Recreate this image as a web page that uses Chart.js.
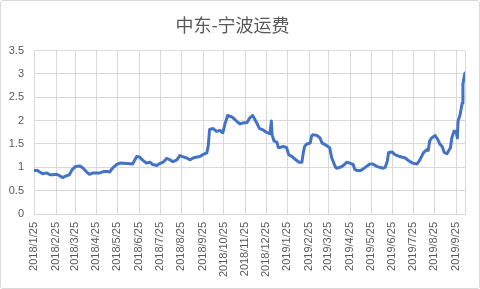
<!DOCTYPE html>
<html>
<head>
<meta charset="utf-8">
<script src="https://cdn.jsdelivr.net/npm/chart.js@4/dist/chart.umd.min.js"></script>
<style>
  html, body { margin: 0; padding: 0; background: #ffffff; }
  #wrap { position: relative; width: 480px; height: 289px; }
  #frame { position: absolute; left: 0; top: 0; width: 478px; height: 287px; border: 1px solid #d9d9d9; border-radius: 3px; pointer-events: none; }
  canvas { position: absolute; left: 0; top: 0; }
</style>
</head>
<body>
<div id="wrap">
  <canvas id="c" width="480" height="289"></canvas>
  <div id="frame"></div>
</div>
<script>
const chartTitle = '中东-宁波运费';

const tickLabels = [
  '2018/1/25','2018/2/25','2018/3/25','2018/4/25','2018/5/25','2018/6/25',
  '2018/7/25','2018/8/25','2018/9/25','2018/10/25','2018/11/25','2018/12/25',
  '2019/1/25','2019/2/25','2019/3/25','2019/4/25','2019/5/25','2019/6/25',
  '2019/7/25','2019/8/25','2019/9/25'
];

const yTicks = [0, 0.5, 1, 1.5, 2, 2.5, 3, 3.5];

const dates = [
  '2018/1/25','2018/1/30','2018/2/2','2018/2/7','2018/2/12','2018/2/17','2018/2/21','2018/2/27',
  '2018/3/3','2018/3/7','2018/3/13','2018/3/17','2018/3/21','2018/3/26','2018/4/1','2018/4/5',
  '2018/4/11','2018/4/15','2018/4/20','2018/4/25','2018/4/30','2018/5/5','2018/5/10','2018/5/14',
  '2018/5/18','2018/5/24','2018/5/29','2018/6/8','2018/6/16','2018/6/22','2018/6/26','2018/7/1',
  '2018/7/6','2018/7/11','2018/7/15','2018/7/21','2018/7/25','2018/7/30','2018/8/4','2018/8/9',
  '2018/8/13','2018/8/19','2018/8/23','2018/8/27','2018/9/2','2018/9/7','2018/9/11','2018/9/17',
  '2018/9/21','2018/9/25','2018/10/1','2018/10/3','2018/10/5','2018/10/10','2018/10/15','2018/10/20',
  '2018/10/24','2018/10/27','2018/10/31','2018/11/6','2018/11/10','2018/11/15','2018/11/18','2018/11/22',
  '2018/11/28','2018/12/2','2018/12/6','2018/12/12','2018/12/16','2018/12/21','2018/12/26','2018/12/31',
  '2019/1/2','2019/1/3','2019/1/6','2019/1/10','2019/1/12','2019/1/14','2019/1/19','2019/1/24',
  '2019/1/27','2019/2/1','2019/2/3','2019/2/8','2019/2/11','2019/2/15','2019/2/17','2019/2/19',
  '2019/2/22','2019/2/27','2019/3/1','2019/3/3','2019/3/9','2019/3/13','2019/3/16','2019/3/20',
  '2019/3/24','2019/3/27','2019/3/30','2019/4/1','2019/4/4','2019/4/6','2019/4/11','2019/4/15',
  '2019/4/21','2019/4/25','2019/4/30','2019/5/2','2019/5/5','2019/5/10','2019/5/14','2019/5/20',
  '2019/5/24','2019/5/28','2019/6/3','2019/6/7','2019/6/12','2019/6/15','2019/6/18','2019/6/20',
  '2019/6/25','2019/6/29','2019/7/6','2019/7/14','2019/7/18','2019/7/24','2019/7/31','2019/8/4',
  '2019/8/9','2019/8/14','2019/8/16','2019/8/18','2019/8/21','2019/8/26','2019/8/30','2019/9/2',
  '2019/9/5','2019/9/8','2019/9/12','2019/9/17','2019/9/19','2019/9/22','2019/9/25','2019/9/27',
  '2019/9/28','2019/10/1','2019/10/4','2019/10/5','2019/10/7','2019/10/8'
];

const values = [
  0.93,0.93,0.90,0.86,0.88,0.84,0.84,0.85,
  0.82,0.78,0.82,0.84,0.95,1.02,1.03,0.99,
  0.90,0.85,0.88,0.88,0.88,0.91,0.91,0.90,
  0.98,1.06,1.09,1.08,1.07,1.23,1.22,1.15,
  1.09,1.11,1.06,1.04,1.08,1.11,1.19,1.16,
  1.12,1.16,1.25,1.23,1.20,1.16,1.20,1.22,
  1.23,1.27,1.31,1.45,1.81,1.83,1.77,1.79,
  1.74,1.92,2.11,2.08,2.03,1.96,1.93,1.95,
  1.96,2.06,2.11,1.95,1.83,1.80,1.75,1.72,
  1.99,1.70,1.56,1.54,1.43,1.42,1.45,1.42,
  1.27,1.23,1.20,1.14,1.11,1.11,1.31,1.45,
  1.50,1.52,1.67,1.70,1.68,1.63,1.52,1.49,
  1.45,1.42,1.20,1.13,1.01,0.98,1.00,1.03,
  1.11,1.09,1.06,0.96,0.93,0.93,0.96,1.03,
  1.07,1.07,1.02,1.00,0.98,1.00,1.13,1.32,
  1.33,1.27,1.23,1.20,1.15,1.09,1.07,1.16,
  1.31,1.38,1.36,1.56,1.63,1.68,1.59,1.49,
  1.45,1.32,1.29,1.42,1.63,1.77,1.77,1.63,
  1.99,2.13,2.38,2.78,2.96,3.02
];

const ORIGIN = Date.UTC(2018, 0, 25);
function dayOf(s) {
  const p = s.split('/').map(Number);
  return (Date.UTC(p[0], p[1] - 1, p[2]) - ORIGIN) / 86400000;
}

const points = dates.map((d, i) => ({ x: dayOf(d), y: values[i] }));
const tickDays = tickLabels.map(dayOf);

const GRID = '#d9d9d9';
const TEXT = '#595959';

const vGrid = {
  id: 'vGrid',
  beforeDatasetsDraw(chart) {
    const a = chart.chartArea, ctx = chart.ctx, xs = chart.scales.x;
    ctx.save();
    ctx.strokeStyle = GRID;
    ctx.lineWidth = 1;
    const xsPix = tickDays.map(v => xs.getPixelForValue(v));
    xsPix.push(a.right);
    xsPix.forEach(px => {
      const x = Math.round(px) + 0.5;
      ctx.beginPath();
      ctx.moveTo(x, a.top);
      ctx.lineTo(x, a.bottom);
      ctx.stroke();
    });
    ctx.restore();
  }
};

new Chart(document.getElementById('c'), {
  type: 'line',
  data: {
    datasets: [{
      data: points,
      borderColor: '#4472C4',
      borderWidth: 3,
      pointRadius: 0,
      tension: 0,
      borderJoinStyle: 'round',
      borderCapStyle: 'round',
      fill: false
    }]
  },
  options: {
    responsive: false,
    animation: false,
    devicePixelRatio: 1,
    layout: { padding: { left: 0, right: 15, top: 0, bottom: 0 } },
    plugins: {
      legend: { display: false },
      tooltip: { enabled: false },
      title: {
        display: true,
        text: chartTitle,
        color: TEXT,
        font: { family: '"Noto Sans CJK SC", sans-serif', size: 18, weight: 'normal' },
        padding: { top: 14, bottom: 15 }
      }
    },
    scales: {
      x: {
        type: 'linear',
        min: 0,
        max: dayOf(dates[dates.length - 1]),
        afterBuildTicks(scale) { scale.ticks = tickDays.map(v => ({ value: v })); },
        afterFit(scale) { scale.height = 75; },
        ticks: {
          autoSkip: false,
          minRotation: 90,
          maxRotation: 90,
          padding: 8,
          color: TEXT,
          font: { family: '"Liberation Sans", Arial, sans-serif', size: 11 },
          callback: (v, i) => tickLabels[i]
        },
        grid: { display: false, drawTicks: false },
        border: { display: true, color: GRID }
      },
      y: {
        min: 0,
        max: 3.5,
        afterBuildTicks(scale) { scale.ticks = yTicks.map(v => ({ value: v })); },
        afterFit(scale) { scale.width = 34; },
        ticks: {
          padding: 10,
          color: TEXT,
          font: { family: '"Liberation Sans", Arial, sans-serif', size: 11 },
          callback: (v) => String(v)
        },
        grid: { color: GRID, drawTicks: false },
        border: { color: GRID }
      }
    }
  },
  plugins: [vGrid]
});
</script>
</body>
</html>
